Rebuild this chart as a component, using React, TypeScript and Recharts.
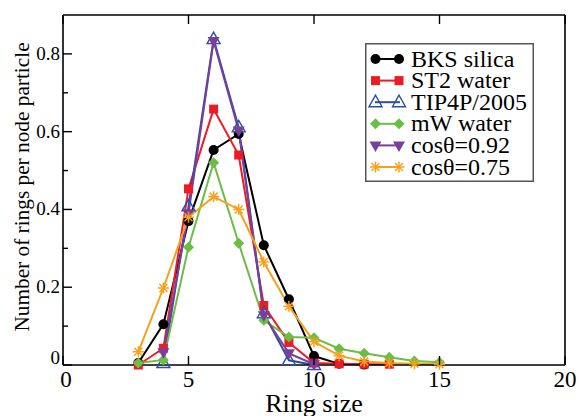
import React from 'react';
import { LineChart, Line, XAxis, YAxis, Legend } from 'recharts';

const ringSizes = [3, 4, 5, 6, 7, 8, 9, 10, 11, 12, 13, 14, 15];
const bksSilica = [0.005, 0.105, 0.37, 0.553, 0.594, 0.308, 0.169, 0.023, 0.003, 0.001, null, null, null];
const st2Water = [0.0, 0.043, 0.453, 0.658, 0.54, 0.153, 0.058, 0.005, 0.003, 0.002, 0.002, null, null];
const tip4p2005 = [null, 0.005, 0.408, 0.838, 0.611, 0.133, 0.012, 0.0, null, null, null, null, null];
const mwWater = [0.005, 0.013, 0.303, 0.52, 0.313, 0.115, 0.072, 0.07, 0.042, 0.03, 0.02, 0.01, 0.007];
const cos092 = [null, 0.033, 0.39, 0.833, 0.603, 0.128, 0.03, 0.002, null, null, null, null, null];
const cos075 = [0.034, 0.198, 0.38, 0.433, 0.4, 0.265, 0.151, 0.06, 0.024, 0.009, 0.005, 0.003, 0.002];

const xTicks = [0, 5, 10, 15, 20];
const yTicks = [0, 0.1, 0.2, 0.3, 0.4, 0.5, 0.6, 0.7, 0.8];

const FONT = 'Liberation Serif, Times New Roman, Times, serif';

type Shape = 'circle' | 'square' | 'triUp' | 'diamond' | 'triDown' | 'star';

const series: { key: string; name: string; color: string; shape: Shape; values: (number | null)[] }[] = [
  { key: 'bks', name: 'BKS silica', color: '#000000', shape: 'circle', values: bksSilica },
  { key: 'st2', name: 'ST2 water', color: '#ed1c24', shape: 'square', values: st2Water },
  { key: 'tip', name: 'TIP4P/2005', color: '#2b4ea2', shape: 'triUp', values: tip4p2005 },
  { key: 'mw', name: 'mW water', color: '#6cbd45', shape: 'diamond', values: mwWater },
  { key: 'c92', name: 'cos\u03b8=0.92', color: '#7a3f9c', shape: 'triDown', values: cos092 },
  { key: 'c75', name: 'cos\u03b8=0.75', color: '#f7a11a', shape: 'star', values: cos075 },
];

const data = ringSizes.map((x, i) => {
  const row: Record<string, number | null> = { x };
  series.forEach((s) => {
    row[s.key] = s.values[i];
  });
  return row;
});

function Marker({ cx, cy, shape, color }: { cx: number; cy: number; shape: Shape; color: string }) {
  switch (shape) {
    case 'circle':
      return <circle cx={cx} cy={cy} r={5} fill={color} />;
    case 'square':
      return <rect x={cx - 4.5} y={cy - 4.5} width={9} height={9} fill={color} />;
    case 'triUp':
      return (
        <polygon
          points={`${cx},${cy - 7} ${cx - 6.5},${cy + 4.5} ${cx + 6.5},${cy + 4.5}`}
          fill="none"
          stroke={color}
          strokeWidth={1.4}
        />
      );
    case 'diamond':
      return (
        <polygon points={`${cx},${cy - 5.5} ${cx + 5.5},${cy} ${cx},${cy + 5.5} ${cx - 5.5},${cy}`} fill={color} />
      );
    case 'triDown':
      return <polygon points={`${cx - 6},${cy - 4} ${cx + 6},${cy - 4} ${cx},${cy + 6.5}`} fill={color} />;
    case 'star':
    default:
      return (
        <g stroke={color} strokeWidth={1.5}>
          <line x1={cx - 5.5} y1={cy} x2={cx + 5.5} y2={cy} />
          <line x1={cx} y1={cy - 5.5} x2={cx} y2={cy + 5.5} />
          <line x1={cx - 4} y1={cy - 4} x2={cx + 4} y2={cy + 4} />
          <line x1={cx - 4} y1={cy + 4} x2={cx + 4} y2={cy - 4} />
        </g>
      );
  }
}

const makeDot = (shape: Shape, color: string) => (props: any) => {
  const { cx, cy, index, value } = props;
  if (value == null || cy == null || cx == null || isNaN(cy)) return <g key={`d-${index}`} />;
  return (
    <g key={`d-${index}`}>
      <Marker cx={cx} cy={cy} shape={shape} color={color} />
    </g>
  );
};

const BottomTick = (props: any) => {
  const { x, y, payload } = props;
  const v = payload.value;
  return (
    <g>
      <line x1={x} y1={y} x2={x} y2={y - 9} stroke="#000" strokeWidth={1.4} />
      <text x={v === 0 ? x + 3 : x} y={y + 22} textAnchor="middle" fontSize={23} fontFamily={FONT} fill="#000">
        {v}
      </text>
    </g>
  );
};

const TopTick = (props: any) => {
  const { x, y } = props;
  return <line x1={x} y1={y} x2={x} y2={y + 9} stroke="#000" strokeWidth={1.4} />;
};

const isMajor = (v: number) => Math.round(v * 10) % 2 === 0;

const LeftTick = (props: any) => {
  const { x, y, payload } = props;
  const v = payload.value as number;
  const major = isMajor(v);
  return (
    <g>
      <line x1={x} y1={y} x2={x + (major ? 9 : 5)} y2={y} stroke="#000" strokeWidth={1.4} />
      {major && (
        <text x={x - 3} y={v === 0 ? y - 1 : y + 6} textAnchor="end" fontSize={19} fontFamily={FONT} fill="#000">
          {v === 0 ? '0' : v.toFixed(1)}
        </text>
      )}
    </g>
  );
};

const RightTick = (props: any) => {
  const { x, y, payload } = props;
  const major = isMajor(payload.value as number);
  return <line x1={x} y1={y} x2={x - (major ? 9 : 5)} y2={y} stroke="#000" strokeWidth={1.4} />;
};

const LEG_W = 169;
const LEG_H = 139;
const ROW_H = 21.6;

const LegendBox = () => (
  <svg width={LEG_W} height={LEG_H} style={{ display: 'block' }}>
    <rect x={0.75} y={0.75} width={LEG_W - 1.5} height={LEG_H - 1.5} fill="#fff" stroke="#555" strokeWidth={1.5} />
    {series.map((s, i) => {
      const cy = 16 + i * ROW_H;
      return (
        <g key={s.key}>
          <line x1={10} y1={cy} x2={35} y2={cy} stroke={s.color} strokeWidth={2} />
          <Marker cx={10.5} cy={cy} shape={s.shape} color={s.color} />
          <Marker cx={34} cy={cy} shape={s.shape} color={s.color} />
          <text x={46} y={cy + 7.5} fontSize={24} fontFamily={FONT} fill="#000">
            {s.name}
          </text>
        </g>
      );
    })}
  </svg>
);

const axisCommon = {
  tickSize: 0,
  tickMargin: 0,
  tickLine: false,
  interval: 0 as const,
  axisLine: { stroke: '#000', strokeWidth: 1.6 },
};

export default function App() {
  return (
    <div style={{ position: 'absolute', left: 0, top: 0, background: '#fff', fontFamily: FONT }}>
      <LineChart width={579} height={416} data={data} margin={{ top: 14, right: 13, bottom: 50, left: 62 }}>
        <XAxis
          xAxisId="b"
          dataKey="x"
          type="number"
          domain={[0, 20]}
          ticks={xTicks}
          height={1}
          {...axisCommon}
          tick={<BottomTick />}
          label={{
            content: (p: any) => {
              const vb = p.viewBox || {};
              return (
                <text
                  x={(vb.x ?? 63) + (vb.width ?? 502) / 2}
                  y={412}
                  textAnchor="middle"
                  fontSize={26}
                  fontFamily={FONT}
                  fill="#000"
                >
                  Ring size
                </text>
              );
            },
          }}
        />
        <XAxis
          xAxisId="t"
          orientation="top"
          dataKey="x"
          type="number"
          domain={[0, 20]}
          ticks={xTicks}
          height={1}
          {...axisCommon}
          tick={<TopTick />}
        />
        <YAxis
          yAxisId="l"
          type="number"
          domain={[0, 0.9]}
          ticks={yTicks}
          width={1}
          {...axisCommon}
          tick={<LeftTick />}
          label={{
            content: () => (
              <text
                x={22}
                y={187}
                transform="rotate(-90 22 187)"
                textAnchor="middle"
                dominantBaseline="central"
                fontSize={21.3}
                fontFamily={FONT}
                fill="#000"
              >
                Number of rings per node particle
              </text>
            ),
          }}
        />
        <YAxis
          yAxisId="r"
          orientation="right"
          type="number"
          domain={[0, 0.9]}
          ticks={yTicks}
          width={1}
          {...axisCommon}
          tick={<RightTick />}
        />
        <Legend
          layout="vertical"
          verticalAlign="middle"
          align="center"
          content={() => <LegendBox />}
          wrapperStyle={{ position: 'absolute', left: 365, top: 43, width: LEG_W, height: LEG_H, margin: 0, padding: 0 }}
        />
        {series.map((s) => (
          <Line
            key={s.key}
            xAxisId="b"
            yAxisId="l"
            type="linear"
            dataKey={s.key}
            name={s.name}
            stroke={s.color}
            strokeWidth={2}
            dot={makeDot(s.shape, s.color)}
            activeDot={false}
            connectNulls={false}
            isAnimationActive={false}
          />
        ))}
      </LineChart>
    </div>
  );
}
